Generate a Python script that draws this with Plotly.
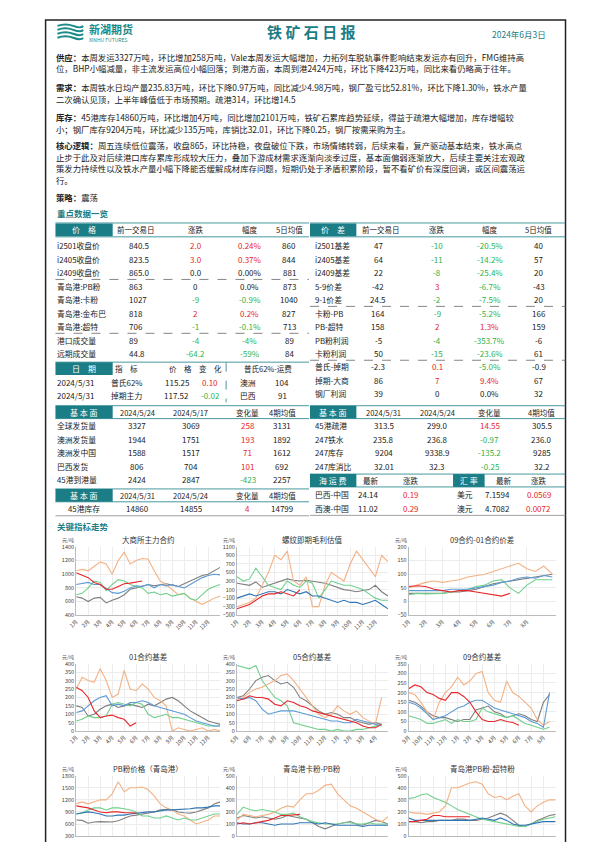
import plotly.graph_objects as go

W, H = 595, 842
FONT = "Noto Sans CJK SC"
TEAL = "#1b7d86"
RED = "#e8262a"
GREEN = "#2db34a"
DARK = "#222222"

# ---------------- text data ----------------
title = "铁 矿 石 日 报"
date_str = "2024年6月3日"
paragraphs = [
    ["<b>供应：</b>本周发运3327万吨，环比增加258万吨，Vale本周发运大幅增加，力拓列车脱轨事件影响结束发运亦有回升，FMG维持高",
     "位，BHP小幅减量，非主流发运高位小幅回落；到港方面，本周到港2424万吨，环比下降423万吨，同比来看仍略高于往年。"],
    ["<b>需求：</b>本周铁水日均产量235.83万吨，环比下降0.97万吨，同比减少4.98万吨，钢厂盈亏比52.81%，环比下降1.30%，铁水产量",
     "二次确认见顶，上半年峰值低于市场预期。疏港314，环比增14.5"],
    ["<b>库存：</b>45港库存14860万吨，环比增加4万吨，同比增加2101万吨，铁矿石累库趋势延续，得益于疏港大幅增加，库存增幅较",
     "小；钢厂库存9204万吨，环比减少135万吨，库销比32.01，环比下降0.25，钢厂按需采购为主。"],
    ["<b>核心逻辑：</b>周五连续低位震荡，收盘865，环比持稳，夜盘破位下跌，市场情绪转弱，后续来看，复产驱动基本结束，铁水高点",
     "止步于此及对后续港口库存累库形成较大压力，叠加下游成材需求逐渐向淡季过度，基本面偏弱逐渐放大，后续主要关注宏观政",
     "策发力持续性以及铁水产量小幅下降能否缓解成材库存问题，短期仍处于矛盾积累阶段，暂不看矿价有深度回调，或区间震荡运",
     "行。"],
    ["<b>策略：</b>震荡"],
]
para_y = [[45, 57], [76, 88], [106, 118], [134, 146, 158, 170], [187]]

# ---------------- table data ----------------
price_labels = ['i2501收盘价', 'i2405收盘价', 'i2409收盘价', '青岛港:PB粉', '青岛港:卡粉', '青岛港:金布巴', '青岛港:超特', '港口成交量', '远期成交量']
price_prev = ['840.5', '823.5', '865.0', '863', '1027', '818', '706', '89', '44.8']
price_chg = ['2.0', '3.0', '0.0', '0', '-9', '2', '-1', '-4', '-64.2']
price_pct = ['0.24%', '0.37%', '0.00%', '0.0%', '-0.9%', '0.2%', '-0.1%', '-4%', '-59%']
price_ma5 = ['860', '844', '881', '873', '1040', '827', '713', '89', '84']

spread_labels = ['i2501基差', 'i2405基差', 'i2409基差', '5-9价差', '9-1价差', '卡粉-PB', 'PB-超特', 'PB粉利润', '卡粉利润', '普氏-掉期', '掉期-大商', '钢厂利润']
spread_prev = ['47', '64', '22', '-42', '24.5', '164', '158', '-5', '50', '-2.3', '86', '39']
spread_chg = ['-10', '-11', '-8', '3', '-2', '-9', '2', '-4', '-15', '0.1', '7', '0']
spread_pct = ['-20.5%', '-14.2%', '-25.4%', '-6.7%', '-7.5%', '-5.2%', '1.3%', '-353.7%', '-23.6%', '-5.0%', '9.4%', '0.0%']
spread_ma5 = ['40', '57', '20', '-43', '20', '166', '159', '-6', '61', '-0.9', '67', '32']

platts_dates = ['2024/5/31', '2024/5/31']
platts_names = ['普氏62%', '掉期主力']
platts_price = ['115.25', '117.52']
platts_chg = ['0.10', '-0.02']
freight_names = ['澳洲', '巴西']
freight_vals = ['104', '91']

fundL_head = ['2024/5/24', '2024/5/17', '变化量', '4期均值']
fundL_labels = ['全球发货量', '澳洲发货量', '澳洲发中国', '巴西发货', '45港到港量']
fundL_cur = ['3327', '1944', '1588', '806', '2424']
fundL_prev = ['3069', '1751', '1517', '704', '2847']
fundL_chg = ['258', '193', '71', '101', '-423']
fundL_avg = ['3131', '1892', '1612', '692', '2257']

inv_head = ['2024/5/31', '2024/5/24', '变化量', '4期均值']
inv_labels = ['45港库存']
inv_cur = ['14860']
inv_prev = ['14855']
inv_chg = ['4']
inv_avg = ['14799']

fundR_head = ['2024/5/31', '2024/5/24', '变化量', '4期均值']
fundR_labels = ['45港疏港', '247铁水', '247库存', '247库消比']
fundR_cur = ['313.5', '235.8', '9204', '32.01']
fundR_prev = ['299.0', '236.8', '9338.9', '32.3']
fundR_chg = ['14.55', '-0.97', '-135.2', '-0.25']
fundR_avg = ['305.5', '236.0', '9285', '32.2']

sea_labels = ['巴西-中国', '西澳-中国']
sea_vals = ['24.14', '11.02']
sea_chg = ['0.19', '0.29']
fx_labels = ['美元', '澳元']
fx_vals = ['7.1594', '4.7082']
fx_chg = ['0.0569', '0.0072']

# ---------------- chart data ----------------
months_jan = ['1月', '2月', '3月', '4月', '5月', '6月', '7月', '8月', '9月', '10月', '11月', '12月']
months_may = ['5月', '6月', '7月', '8月', '9月', '10月', '11月', '12月', '1月', '2月', '3月', '4月']
months_sep = ['9月', '10月', '11月', '12月', '1月', '2月', '3月', '4月', '5月', '6月', '7月', '8月']
months_jan8 = months_jan[:8]

year_names = ['2020年', '2021年', '2022年', '2023年', '2024年']

dce_main = [
    [670, 650, 600, 650, 660, 580, 620, 650, 700, 780, 800, 830, 850, 830, 850, 860, 840, 820, 860, 900, 950, 980, 1000, 1050, 1100],
    [1050, 1070, 1050, 1120, 1180, 1150, 1000, 1200, 1320, 1150, 1200, 1230, 1220, 1050, 900, 850, 780, 700, 720, 650, 600, 560, 600, 650, 680],
    [700, 720, 800, 900, 880, 760, 850, 920, 900, 850, 820, 800, 720, 740, 700, 720, 680, 700, 720, 640, 620, 700, 780, 820, 850],
    [850, 860, 880, 850, 850, 790, 730, 720, 750, 800, 830, 820, 850, 800, 850, 830, 850, 820, 800, 850, 900, 950, 980, 1000, 990],
    [1020, 980, 950, 880, 850, 780, 780, 820, 860, 870, 880, 900],
]
rebar_margin = [
    [250, 230, 200, 280, 150, 200, 250, 300, 350, 320, 300, 320, 300, 280, 250, 200, 150, 100, 80, 50, 80, 100, 200, 50, -50],
    [-300, -250, -200, -100, 200, 500, 900, 800, 1000, 300, 200, 400, -300, -300, 200, 500, 400, 300, 700, 1000, 800, 600, 400, 900, 750],
    [400, 300, 350, 600, 400, 200, 150, 100, 300, 200, 150, 300, 250, -100, 100, 300, 250, 200, 200, 150, 100, 0, -100, -150, -150],
    [-100, -50, 0, -50, 0, 50, 50, 0, 100, 50, 0, 50, -50, -50, -100, -150, -200, -150, -200, -200, -250, -200, -150, -250, -350],
    [-350, -300, -250, -150, -50, 0, 0, 50, 0, -50, 100],
]
spread_0901 = [
    [30, 30, 28, 30, 30, 35, 35, 40, 45, 55, 65, 70, 75, 80, 85, 90, 95, 100],
    [50, 60, 70, 75, 70, 75, 80, 90, 95, 100, 110, 120, 130, 140, 120, 110, 130, 100],
    [25, 30, 28, 30, 30, 35, 40, 45, 55, 60, 75, 80, 50, 30, 60, 80, 80, 80],
    [40, 40, 38, 40, 40, 45, 45, 45, 50, 55, 60, 70, 75, 85, 90, 85, 95, 90],
    [55, 58, 55, 45, 40, 35, 40, 40, 35, 30, 25, 20, 30],
]
basis01_names = ['i2101', 'i2201', 'i2301', 'i2401', 'i2501']
basis01 = [
    [150, 140, 90, 100, 130, 150, 160, 140, 150, 160, 150, 140, 160, 150, 170, 190, 200, 180, 150, 120, 100, 80, 60, 50, 40],
    [250, 320, 300, 290, 370, 300, 200, 220, 360, 250, 240, 280, 250, 200, 180, 150, 0, 20, 10, 0, 10, 20, 0, 10, 0],
    [60, 70, 90, 80, 80, 90, 160, 170, 160, 150, 170, 160, 100, 80, 90, 100, 80, 80, 70, 60, 50, 40, 30, 30, 30],
    [110, 120, 150, 180, 200, 210, 150, 160, 150, 170, 170, 180, 170, 150, 140, 130, 120, 110, 100, 80, 60, 50, 40, 30, 30],
    [260, 240, 200, 120, 80, 90, 95, 80, 70, 30, 50],
]
basis05_names = ['i2005', 'i2105', 'i2205', 'i2305', 'i2405']
basis05 = [
    [200, 210, 250, 300, 320, 330, 300, 280, 290, 260, 200, 180, 150, 120, 100, 110, 100, 80, 80, 60, 50, 40, 50, 40],
    [190, 200, 230, 250, 260, 280, 300, 330, 340, 300, 250, 200, 150, 100, 80, 100, 150, 120, 100, 120, 80, 60, 40, 200],
    [390, 380, 370, 390, 300, 250, 200, 180, 150, 50, 40, 30, 20, 10, 10, 0, 10, 0, 0, 10, 10, 20, 30, 40],
    [200, 190, 200, 180, 130, 100, 110, 120, 120, 120, 110, 100, 90, 80, 70, 60, 60, 50, 50, 70, 60, 50, 40, 30],
    [180, 190, 210, 200, 200, 190, 160, 150, 180, 170, 150, 140, 120, 110, 100, 90, 80, 70, 60, 50, 30, 20, 20, 40],
]
basis09_names = ['i2009', 'i2109', 'i2209', 'i2309', 'i2409']
basis09 = [
    [160, 150, 130, 100, 80, 70, 70, 60, 50, 60, 60, 110, 120, 130, 100, 90, 70, 80, 90, 80, 60, 50, 150, 190],
    [200, 190, 150, 100, 60, 150, 200, 230, 280, 240, 260, 300, 310, 200, 160, 150, 260, 200, 180, 150, 120, 60, 30, 50],
    [80, 70, 60, 40, 40, 50, 60, 40, 60, 50, 50, 60, 120, 100, 90, 80, 70, 80, 60, 40, 30, 20, 10, 20],
    [150, 140, 120, 90, 60, 70, 80, 100, 120, 130, 150, 160, 160, 140, 120, 110, 100, 90, 80, 70, 50, 40, 20, 200],
    [220, 240, 230, 200, 190, 170, 160, 200, 200, 180, 150, 100, 60, 50, 50, 60, 50, 45, 30],
]
pb_price = [
    [700, 690, 620, 650, 660, 660, 650, 680, 750, 800, 820, 850, 880, 900, 950, 960, 950, 900, 880, 870, 900, 950, 1000, 1100, 1150],
    [1100, 1150, 1100, 1150, 1200, 1200, 1350, 1650, 1400, 1500, 1500, 1520, 1450, 1300, 1100, 1000, 950, 850, 800, 700, 600, 650, 700, 800, 800],
    [850, 880, 950, 1000, 1000, 950, 1000, 1000, 980, 950, 900, 800, 800, 750, 750, 800, 750, 700, 750, 700, 700, 750, 800, 850, 850],
    [850, 870, 900, 880, 850, 800, 800, 820, 820, 850, 870, 880, 900, 900, 920, 950, 950, 960, 960, 980, 1000, 1000, 1020, 1050, 1050],
    [1050, 1020, 1000, 950, 900, 880, 900, 900, 880, 880, 870],
]
kafen_pb = [
    [150, 170, 160, 150, 160, 150, 140, 150, 170, 160, 150, 140, 110, 80, 60, 80, 100, 110, 120, 100, 90, 110, 130, 120, 100],
    [130, 180, 170, 160, 170, 180, 200, 230, 250, 240, 300, 350, 350, 380, 420, 430, 350, 300, 250, 230, 200, 170, 140, 120, 160],
    [180, 240, 220, 210, 220, 210, 200, 180, 180, 190, 160, 140, 120, 110, 100, 100, 100, 110, 110, 100, 100, 110, 100, 100, 100],
    [110, 100, 100, 110, 110, 100, 90, 100, 100, 100, 110, 110, 110, 100, 110, 100, 90, 90, 90, 90, 80, 90, 90, 90, 90],
    [100, 110, 100, 110, 120, 130, 150, 170, 170, 175, 180],
]
pb_chaote = [
    [120, 120, 110, 120, 120, 130, 130, 130, 140, 140, 130, 130, 140, 150, 170, 190, 170, 130, 90, 80, 100, 130, 150, 170, 180],
    [200, 190, 190, 180, 190, 200, 250, 400, 400, 420, 440, 450, 430, 350, 320, 330, 300, 330, 350, 250, 200, 250, 280, 300, 300],
    [310, 320, 340, 350, 320, 300, 280, 250, 220, 200, 180, 160, 140, 130, 120, 110, 100, 90, 80, 80, 100, 120, 140, 150, 160],
    [150, 130, 130, 130, 130, 130, 130, 130, 130, 130, 130, 140, 150, 140, 130, 150, 130, 100, 90, 90, 100, 110, 120, 120, 120],
    [120, 120, 130, 140, 170, 170, 160, 160, 160, 165, 160],
]

# ---------------- helpers ----------------
def X(px): return px / W
def Y(py): return 1 - py / H

ann, shp = [], []

def txt(x, y, s, size=8.5, color=DARK, anchor='left', font=FONT):
    ann.append(dict(x=X(x), y=Y(y), xref='paper', yref='paper', text=s, showarrow=False,
                    xanchor=anchor, yanchor='middle', font=dict(size=size, color=color, family=font)))

def rect(x0, y0, x1, y1, fill=None, line=None, lw=1):
    shp.append(dict(type='rect', xref='paper', yref='paper', x0=X(x0), x1=X(x1), y0=Y(y1), y1=Y(y0),
                    fillcolor=fill or 'rgba(0,0,0,0)', line=dict(color=line or 'rgba(0,0,0,0)', width=lw)))

def hline(x0, x1, y, color='#888', dash='solid', lw=0.8):
    shp.append(dict(type='line', xref='paper', yref='paper', x0=X(x0), x1=X(x1), y0=Y(y), y1=Y(y),
                    line=dict(color=color, width=lw, dash=dash)))

def vline(x, y0, y1, color='#888', dash='solid', lw=0.8):
    shp.append(dict(type='line', xref='paper', yref='paper', x0=X(x), x1=X(x), y0=Y(y0), y1=Y(y1),
                    line=dict(color=color, width=lw, dash=dash)))

def vcol(s):
    s = s.strip()
    if s.startswith('-'):
        return GREEN
    try:
        v = float(s.replace('%', ''))
    except ValueError:
        return DARK
    return RED if v > 0 else DARK

def head_cell(x0, x1, y, label):
    rect(x0, y - 6.5, x1, y + 6.5, fill=TEAL)
    txt((x0 + x1) / 2, y, label, 8, 'white', 'center')

# ---------------- page frame & header ----------------
rect(30, 8, 557, 860, line='#222', lw=1.5)
for i, yy in enumerate([14, 18, 22, 26]):
    shp.append(dict(type='path', xref='paper', yref='paper',
                    path=f"M {X(42)} {Y(yy)} Q {X(50)} {Y(yy-3)} {X(58)} {Y(yy)} T {X(68)} {Y(yy)}",
                    line=dict(color='#1a8a8a', width=2)))
txt(72, 17, '<b>新湖期货</b>', 11, '#1a8a8a')
txt(72, 28, 'XINHU FUTURES', 5, '#1a8a8a')
txt(300, 20, '<b>' + title + '</b>', 15, TEAL, 'center')
txt(510, 22, date_str, 8.5, TEAL, 'center')

for lines, ys in zip(paragraphs, para_y):
    for s, yy in zip(lines, ys):
        txt(39, yy, s, 8.4)

# ---------------- tables ----------------
txt(40, 203, '<b>重点数据一览</b>', 8.5, TEAL)
row_h = 13.6
r0 = 236
head_cell(40, 98, 220, '价　格')
for xx, s in [(122, '前一交易日'), (182, '涨跌'), (237, '幅度'), (277, '5日均值')]:
    txt(xx, 220, s, 7.5, DARK, 'center')
for i in range(len(price_labels)):
    yy = r0 + i * row_h
    txt(40, yy, price_labels[i], 7.8)
    txt(113, yy, price_prev[i], 8)
    txt(182, yy, price_chg[i], 8, vcol(price_chg[i]), 'center')
    txt(237, yy, price_pct[i], 8, vcol(price_pct[i]), 'center')
    txt(277, yy, price_ma5[i], 8, DARK, 'center')
hline(40, 297, 213, TEAL)
hline(40, 297, 227, TEAL)
hline(40, 297, r0 + 2.5 * row_h, '#666', 'dash')
hline(40, 297, r0 + 6.5 * row_h, '#666', 'dash')

head_cell(298, 345, 220, '价　差')
for xx, s in [(370, '前一交易日'), (427, '涨跌'), (480, '幅度'), (530, '5日均值')]:
    txt(xx, 220, s, 7.5, DARK, 'center')
for i in range(len(spread_labels)):
    yy = r0 + i * row_h
    txt(301, yy, spread_labels[i], 7.8)
    txt(367, yy, spread_prev[i], 8, DARK, 'center')
    txt(427, yy, spread_chg[i], 8, vcol(spread_chg[i]), 'center')
    txt(480, yy, spread_pct[i], 8, vcol(spread_pct[i]), 'center')
    txt(530, yy, spread_ma5[i], 8, DARK, 'center')
hline(298, 557, 213, TEAL)
hline(298, 557, 227, TEAL)
hline(298, 557, r0 + 4.5 * row_h, '#666', 'dash')
hline(298, 557, r0 + 8.5 * row_h, '#666', 'dash')

yh = 360
head_cell(40, 98, yh, '日　期')
for xx, s in [(112, '指　标'), (167, '价　格'), (197, '变　化'), (255, '普氏62%-运费')]:
    txt(xx, yh, s, 7.5, DARK, 'center')
for i in range(2):
    yy = yh + (i + 1) * row_h
    txt(40, yy, platts_dates[i], 8)
    txt(112, yy, platts_names[i], 7.8, DARK, 'center')
    txt(163, yy, platts_price[i], 8, DARK, 'center')
    txt(197, yy, platts_chg[i], 8, vcol(platts_chg[i]), 'center')
    txt(235, yy, freight_names[i], 7.8, DARK, 'center')
    txt(270, yy, freight_vals[i], 8, DARK, 'center')
vline(213, yh - 6, yh + 2.5 * row_h, TEAL, 'dash')
hline(40, 297, yh - 6.5, TEAL)

yh = 404
head_cell(40, 98, yh, '基 本 面')
for xx, s in zip([123, 177, 235, 270], fundL_head):
    txt(xx, yh, s, 7.5, DARK, 'center')
for i in range(len(fundL_labels)):
    yy = yh + (i + 1) * row_h
    txt(40, yy, fundL_labels[i], 7.8)
    txt(123, yy, fundL_cur[i], 8, DARK, 'center')
    txt(177, yy, fundL_prev[i], 8, DARK, 'center')
    txt(235, yy, fundL_chg[i], 8, vcol(fundL_chg[i]), 'center')
    txt(270, yy, fundL_avg[i], 8, DARK, 'center')
hline(40, 297, yh - 6.5, TEAL)
hline(40, 297, yh + 6.5, TEAL)

yh = 488
head_cell(40, 98, yh, '基 本 面')
for xx, s in zip([123, 177, 235, 270], inv_head):
    txt(xx, yh, s, 7.5, DARK, 'center')
yy = yh + row_h
txt(69, yy, inv_labels[0], 7.8, DARK, 'center')
txt(123, yy, inv_cur[0], 8, DARK, 'center')
txt(177, yy, inv_prev[0], 8, DARK, 'center')
txt(235, yy, inv_chg[0], 8, vcol(inv_chg[0]), 'center')
txt(270, yy, inv_avg[0], 8, DARK, 'center')
hline(40, 297, yh - 6.5, TEAL)
hline(40, 297, yh + 6.5, TEAL)
hline(40, 297, yy + 7, '#888')

yh = 404
head_cell(298, 345, yh, '基 本 面')
for xx, s in zip([373, 427, 480, 533], fundR_head):
    txt(xx, yh, s, 7.5, DARK, 'center')
for i in range(len(fundR_labels)):
    yy = yh + (i + 1) * row_h
    txt(301, yy, fundR_labels[i], 7.8)
    txt(373, yy, fundR_cur[i], 8, DARK, 'center')
    txt(427, yy, fundR_prev[i], 8, DARK, 'center')
    txt(480, yy, fundR_chg[i], 8, vcol(fundR_chg[i]), 'center')
    txt(533, yy, fundR_avg[i], 8, DARK, 'center')
hline(298, 557, yh - 6.5, TEAL)
hline(298, 557, yh + 6.5, TEAL)

yh = 473
head_cell(298, 345, yh, '海 运 费')
txt(360, yh, '最新', 7.5, DARK, 'center')
txt(400, yh, '涨跌', 7.5, DARK, 'center')
head_cell(443, 475, yh, '汇 率')
txt(495, yh, '最新', 7.5, DARK, 'center')
txt(530, yh, '涨跌', 7.5, DARK, 'center')
for i in range(2):
    yy = yh + (i + 1) * row_h + 1
    txt(320, yy, sea_labels[i], 7.8, DARK, 'center')
    txt(357, yy, sea_vals[i], 8, DARK, 'center')
    txt(400, yy, sea_chg[i], 8, vcol(sea_chg[i]), 'center')
    txt(455, yy, fx_labels[i], 7.8, DARK, 'center')
    txt(488, yy, fx_vals[i], 8, DARK, 'center')
    txt(530, yy, fx_chg[i], 8, vcol(fx_chg[i]), 'center')
hline(298, 557, yh - 6.5, TEAL)
hline(298, 557, yh + 6.5, TEAL)
hline(298, 557, yh + 2 * row_h + 8, '#888')

txt(40, 519, '<b>关键指标走势</b>', 8.5, TEAL)

# ---------------- charts ----------------
COLORS = ['#7f7f7f', '#f4b183', '#70d08c', '#5b9bd5', '#e8262a']
COLORS2 = ['#7f7f7f', '#f4b183', '#70d08c', '#2e75b6', '#e8262a']

cols = [(61, 207), (224, 377), (398, 547)]
rows = [(540, 609), (658, 726), (771, 832)]

charts = [
    ('大商所主力合约', dce_main, year_names, months_jan, [400, 1400], list(range(400, 1401, 200)), COLORS, 12),
    ('螺纹即期毛利估值', rebar_margin, year_names, months_jan, [-500, 1100], list(range(-500, 1101, 200)), COLORS2, 12),
    ('09合约-01合约价差', spread_0901, year_names, months_jan8, [-50, 200], list(range(-50, 201, 50)), COLORS, 8.7),
    ('01合约基差', basis01, basis01_names, months_jan, [0, 400], list(range(0, 401, 50)), COLORS, 12),
    ('05合约基差', basis05, basis05_names, months_may, [0, 400], list(range(0, 401, 50)), COLORS, 12),
    ('09合约基差', basis09, basis09_names, months_sep, [0, 350], list(range(0, 351, 50)), COLORS, 12),
    ('PB粉价格（青岛港）', pb_price, year_names, months_jan, [300, 1800], list(range(300, 1801, 300)), COLORS2, 12),
    ('青岛港卡粉-PB粉', kafen_pb, year_names, months_jan, [0, 500], list(range(0, 501, 100)), COLORS2, 12),
    ('青岛港PB粉-超特粉', pb_chaote, year_names, months_jan, [0, 500], list(range(0, 501, 100)), COLORS2, 12),
]

fig = go.Figure()
layout_axes = {}
for k, (ctitle, series, names, ticks, yr, yt, cols_c, xmax) in enumerate(charts):
    r, c = divmod(k, 3)
    idx = k + 1
    xa = 'x' if idx == 1 else f'x{idx}'
    ya = 'y' if idx == 1 else f'y{idx}'
    leg = 'legend' if idx == 1 else f'legend{idx}'
    for j, (vals, nm) in enumerate(zip(series, names)):
        xs = [i * 0.5 for i in range(len(vals))]
        fig.add_trace(go.Scatter(x=xs, y=vals, mode='lines', name=nm, xaxis=xa, yaxis=ya,
                                 line=dict(color=cols_c[j], width=1.1), legend=leg,
                                 showlegend=(r < 2)))
    x0, x1 = cols[c]
    y0, y1 = rows[r]
    layout_axes['xaxis' if idx == 1 else f'xaxis{idx}'] = dict(
        domain=[X(x0), X(x1)], anchor=ya, range=[0, xmax],
        tickvals=list(range(len(ticks))), ticktext=ticks, tickangle=-45,
        showticklabels=(r < 2),
        tickfont=dict(size=5.5, family=FONT, color='#444'), showgrid=True, gridcolor='#ececec',
        showline=True, linecolor='#bbb', ticks='', zeroline=False)
    layout_axes['yaxis' if idx == 1 else f'yaxis{idx}'] = dict(
        domain=[Y(y1), Y(y0)], anchor=xa, range=yr, tickvals=yt,
        tickfont=dict(size=5.5, family=FONT, color='#444'), showgrid=True, gridcolor='#ececec',
        showline=True, linecolor='#bbb', zeroline=False)
    txt((x0 + x1) / 2, y0 - 7, ctitle, 7.5, '#333', 'center')
    txt(x0 - 16, y0 - 7, '元/吨', 5, '#555', 'left')
    if r < 2:
        ly = 637 if r == 0 else 752
        layout_axes[leg] = dict(orientation='h', x=X((x0 + x1) / 2 - 8), y=Y(ly), xanchor='center',
                                yanchor='middle', font=dict(size=5.5, family=FONT, color='#444'),
                                itemwidth=30, bgcolor='rgba(0,0,0,0)', tracegroupgap=0,
                                entrywidth=26, itemsizing='constant')

fig.update_layout(width=W, height=H, margin=dict(l=0, r=0, t=0, b=0),
                  paper_bgcolor='white', plot_bgcolor='white',
                  annotations=ann, shapes=shp, font=dict(family=FONT), **layout_axes)
fig.write_html("out.html")
